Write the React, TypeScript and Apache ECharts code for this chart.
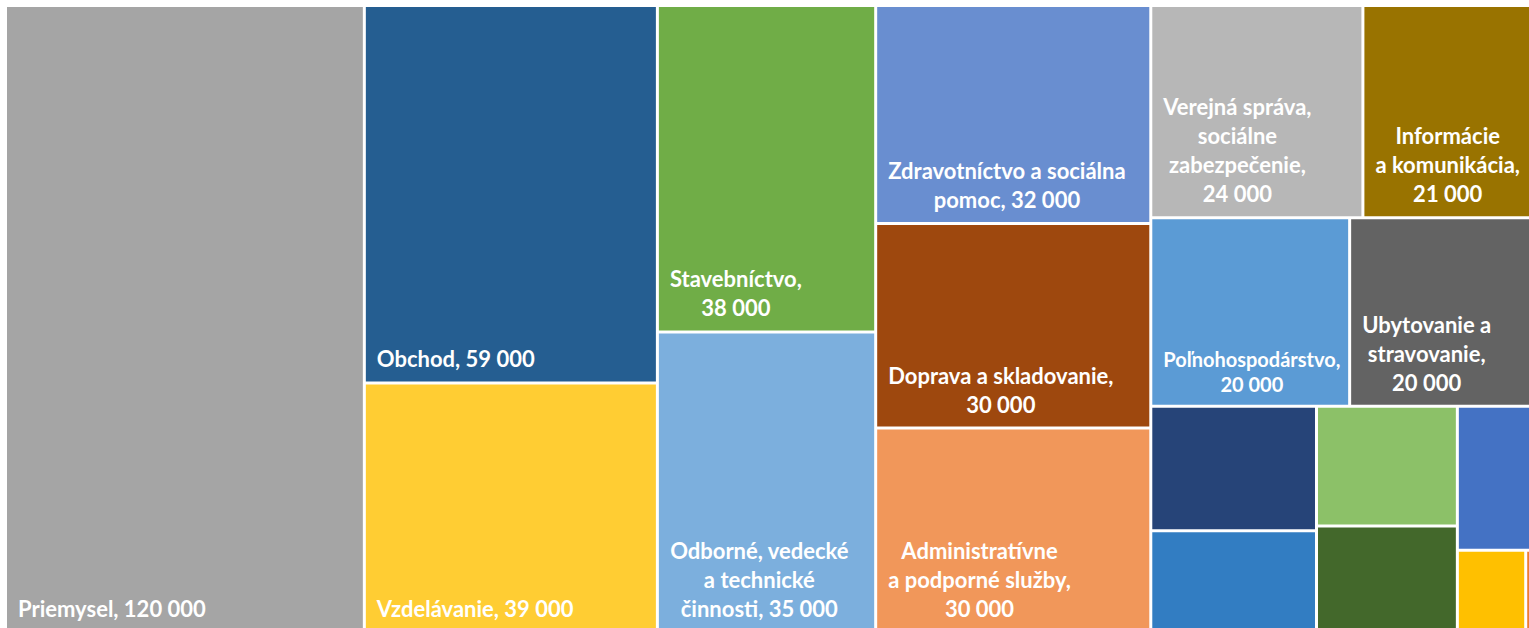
import React, { useEffect, useRef } from "react";
import * as echarts from "echarts";

// Sectors (employees), largest first
const categories = [
  "Priemysel",
  "Obchod",
  "Vzdelávanie",
  "Stavebníctvo",
  "Odborné, vedecké a technické činnosti",
  "Zdravotníctvo a sociálna pomoc",
  "Doprava a skladovanie",
  "Administratívne a podporné služby",
  "Verejná správa, sociálne zabezpečenie",
  "Informácie a komunikácia",
  "Poľnohospodárstvo",
  "Ubytovanie a stravovanie",
  "Finančné a poisťovacie činnosti",
  "Umenie, zábava a rekreácia",
  "Ostatné činnosti",
  "Činnosti v oblasti nehnuteľností",
  "Dodávka elektriny, plynu a pary",
  "Dodávka vody",
  "Ťažba a dobývanie",
];

const employees = [
  120000, 59000, 39000, 38000, 35000, 32000, 30000, 30000, 24000, 21000,
  20000, 20000, 11000, 9000, 9000, 8000, 7000, 3000, 1000,
];

// Label text as wrapped in the reference ({v} = formatted value); "" = no label
const labelTemplates = [
  "Priemysel, {v}",
  "Obchod, {v}",
  "Vzdelávanie, {v}",
  "Stavebníctvo,\n{v}",
  "Odborné, vedecké\na technické\nčinnosti, {v}",
  "Zdravotníctvo a sociálna\npomoc, {v}",
  "Doprava a skladovanie,\n{v}",
  "Administratívne\na podporné služby,\n{v}",
  "Verejná správa,\nsociálne\nzabezpečenie,\n{v}",
  "Informácie\na komunikácia,\n{v}",
  "Poľnohospodárstvo,\n{v}",
  "Ubytovanie a\nstravovanie,\n{v}",
  "",
  "",
  "",
  "",
  "",
  "",
  "",
];

const colors = [
  "#A5A5A5",
  "#255E91",
  "#FFCD33",
  "#70AD47",
  "#7CAFDD",
  "#698ED0",
  "#9E480E",
  "#F1975A",
  "#B7B7B7",
  "#997300",
  "#5B9BD5",
  "#636363",
  "#264478",
  "#327DC2",
  "#8CC168",
  "#43682B",
  "#4472C4",
  "#FFC000",
  "#ED7D31",
];

const FONT_FAMILY = "Lato";
const LABEL_LEFT = 11;

function formatValue(v: number): string {
  return String(v).replace(/\B(?=(\d{3})+(?!\d))/g, " ");
}

function makeMeasurer() {
  const canvas = document.createElement("canvas");
  const ctx = canvas.getContext("2d");
  return (text: string, size: number) => {
    if (!ctx) return 0;
    ctx.font = `bold ${size}px ${FONT_FAMILY}`;
    return Math.max(...text.split("\n").map((l) => ctx.measureText(l).width));
  };
}

export default function App() {
  const ref = useRef<HTMLDivElement>(null);

  useEffect(() => {
    if (!ref.current) return;
    const chart = echarts.init(ref.current, undefined, { renderer: "svg" });
    const measure = makeMeasurer();

    const data = categories.map((name, i) => {
      const tpl = labelTemplates[i];
      const text = tpl ? tpl.replace("{v}", formatValue(employees[i])) : "";
      const small = name === "Poľnohospodárstvo";
      const fontSize = small ? 20 : 22;
      const lineHeight = small ? 25 : 29;
      return {
        name,
        value: employees[i],
        itemStyle: { color: colors[i] },
        label: text
          ? {
              show: true,
              formatter: text,
              fontSize,
              lineHeight,
              offset: [LABEL_LEFT + measure(text, fontSize) / 2, 0],
            }
          : { show: false },
      };
    });

    chart.setOption({
      animation: false,
      backgroundColor: "#ffffff",
      tooltip: { show: false },
      series: [
        {
          type: "treemap",
          left: 0,
          top: 0,
          right: 0,
          bottom: 0,
          roam: false,
          nodeClick: false,
          squareRatio: 1,
          sort: false,
          breadcrumb: { show: false },
          itemStyle: { borderWidth: 0, gapWidth: 3, borderColor: "#ffffff" },
          levels: [
            { itemStyle: { borderWidth: 0, gapWidth: 3, borderColor: "#ffffff" } },
          ],
          label: {
            show: true,
            position: "insideBottomLeft",
            distance: 0,
            padding: [0, 0, 8, 0],
            align: "center",
            color: "#ffffff",
            fontFamily: FONT_FAMILY,
            fontWeight: "bold",
            fontSize: 22,
            lineHeight: 29,
            overflow: "none",
          },
          emphasis: { disabled: true },
          data,
        },
      ],
    });

    return () => chart.dispose();
  }, []);

  return (
    <div
      style={{
        position: "fixed",
        left: 0,
        top: 0,
        width: "100vw",
        height: "100vh",
        overflow: "hidden",
        background: "#ffffff",
      }}
    >
      <div
        ref={ref}
        style={{
          position: "absolute",
          left: 6.5,
          top: 6.5,
          width: 1540,
          height: 624,
        }}
      />
    </div>
  );
}
